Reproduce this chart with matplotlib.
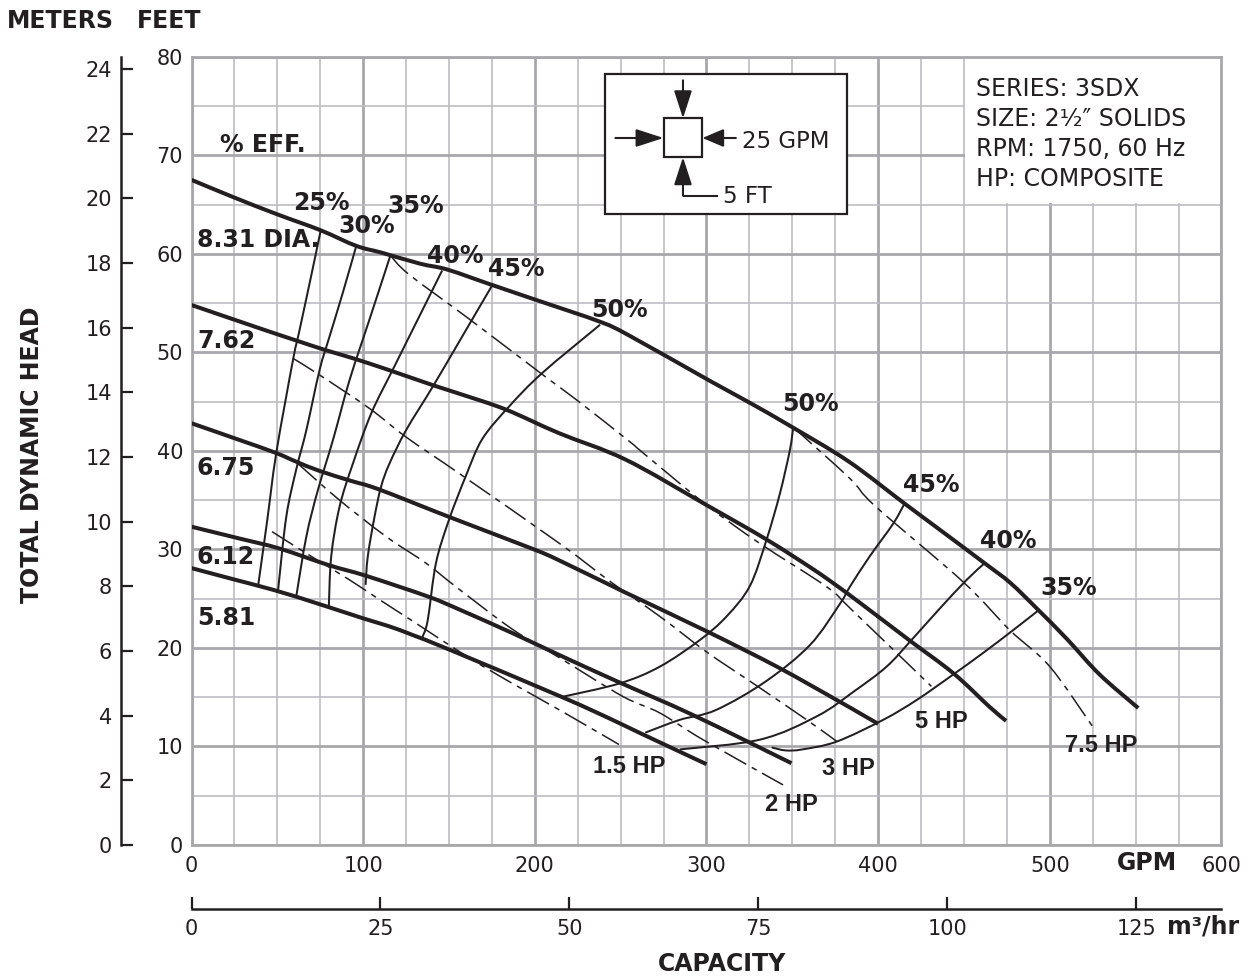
import matplotlib
matplotlib.use("Agg")
import matplotlib.pyplot as plt
from matplotlib.patches import Rectangle, PathPatch
from matplotlib.path import Path
import numpy as np

plt.rcParams['font.family'] = ['DejaVu Sans']
plt.rcParams['lines.scale_dashes'] = False

# ---------------- data (GPM, feet) ----------------
d831_q = [0, 25, 50, 75, 96, 111, 133, 149, 174, 201, 238, 255, 302, 325, 350, 383, 415, 432, 462, 477, 493, 510, 529, 551.5]
d831_h = [67.5, 65.7, 64.0, 62.4, 60.8, 60.1, 59.0, 58.4, 56.9, 55.3, 53.1, 51.7, 47.1, 44.9, 42.4, 38.9, 34.7, 32.5, 28.6, 26.6, 23.9, 20.9, 17.3, 13.9]
d762_q = [0, 42, 61, 78.5, 94, 115, 140, 156, 183, 214, 253, 300, 335, 362, 376, 390, 418, 444, 465, 474.5]
d762_h = [54.8, 52.3, 51.2, 50.2, 49.4, 48.2, 46.7, 45.8, 44.2, 41.8, 39.1, 34.5, 31.0, 28.0, 26.3, 24.5, 20.8, 17.4, 14.0, 12.6]
d675_q = [0, 28, 49, 61, 74, 92, 109, 150, 198, 214, 253, 300, 341, 376, 390, 400]
d675_h = [42.8, 41.1, 39.8, 38.9, 38.0, 37.0, 36.1, 33.3, 30.1, 28.9, 25.6, 21.7, 18.1, 14.7, 13.3, 12.3]
d612_q = [0, 28, 51, 80, 102, 138, 156, 187, 214, 248, 292, 349.5]
d612_h = [32.3, 31.1, 30.1, 28.4, 27.3, 25.2, 23.9, 21.5, 19.3, 16.6, 13.2, 8.3]
d581_q = [0, 28, 39, 61, 100, 115, 129, 152, 216, 244, 262, 300]
d581_h = [28.1, 26.8, 26.3, 25.2, 23.0, 22.2, 21.3, 19.7, 15.0, 12.8, 11.3, 8.2]
dia_names = ['8.31 DIA.', '7.62', '6.75', '6.12', '5.81']

# efficiency curves
e25_q = [75.3, 70.5, 63.0, 59.1, 49.4, 44.0, 38.8]
e25_h = [62.4, 58.4, 52.3, 49.2, 39.8, 32.8, 26.3]
e30_q = [96, 87.9, 80.4, 74.6, 66.9, 61.0, 55.2, 50.4]
e30_h = [60.8, 55.9, 51.6, 48.2, 42.1, 38.1, 33.3, 25.8]
e35_q = [116, 104, 92.1, 82.4, 73.6, 66.9, 61.0]
e35_h = [59.9, 53.5, 47.2, 41.1, 36.0, 31.3, 25.2]
e40_q = [146, 132, 118, 104.7, 94.0, 86.2, 81.4, 80.0]
e40_h = [58.3, 53.4, 48.5, 43.8, 38.7, 34.3, 29.3, 24.2]
e45_q = [175.5, 157, 140.5, 125, 115.3, 110.5, 106.6, 102.7, 101.4]
e45_h = [56.9, 51.4, 46.5, 42.1, 38.7, 36.4, 33.3, 29.3, 26.4]
e50_q = [238, 204.3, 185, 169.4, 159.7, 150, 142.4, 137.6, 134.5]
e50_h = [52.8, 47.9, 44.5, 41.2, 37.4, 33.0, 28.6, 22.8, 21.1]
e50r_q = [350.5, 348.6, 342.8, 335, 325.3, 311.7, 296.1, 272.8, 249.4, 215]
e50r_h = [42.4, 40.1, 35.7, 31.0, 26.3, 23.2, 20.8, 18.1, 16.4, 15.0]
e45r_q = [415.5, 408.7, 395.1, 383.5, 377.8, 360.3, 334.5, 305.5, 284.4, 264.3]
e45r_h = [34.7, 32.6, 29.3, 26.2, 24.5, 20.3, 16.6, 13.7, 12.7, 11.4]
e40r_q = [462, 451.5, 435.9, 419.4, 404.9, 386, 364.7, 331.3, 284.4]
e40r_h = [28.6, 26.9, 24.0, 20.8, 18.1, 15.6, 13.1, 10.7, 9.7]
e35r_q = [494, 478.6, 461.2, 443.7, 422.3, 402.9, 375.9, 355.8, 346, 338]
e35r_h = [23.9, 21.8, 19.5, 17.3, 14.7, 12.7, 10.5, 9.7, 9.6, 9.9]

# horsepower lines
hp75_q = [350.5, 383.5, 398.2, 449.5, 476.7, 500, 525]
hp75_h = [42.4, 37.2, 34.4, 26.7, 21.8, 18.1, 12.0]
hp5_q = [116, 126.7, 161.6, 206.3, 224.1, 254.8, 263, 300, 331.1, 370, 385, 431]
hp5_h = [59.8, 57.9, 53.4, 47.5, 45.2, 41.0, 39.8, 34.5, 30.6, 26.2, 23.8, 16.1]
hp3_q = [59, 74.6, 103.7, 125, 156, 214.4, 245, 272.8, 300, 327.2, 358.4, 376]
hp3_h = [49.4, 47.7, 44.3, 41.4, 37.7, 30.6, 26.6, 23.2, 19.6, 16.4, 12.7, 10.5]
hp2_q = [62, 86.2, 113.4, 136.6, 154.1, 186.9, 214.4, 251, 272.8, 297.8, 344.6]
hp2_h = [38.7, 35.0, 31.3, 28.6, 26.2, 21.9, 19.0, 15.1, 13.4, 10.7, 6.1]
hp15_q = [46.9, 66.9, 92.1, 109.5, 130.8, 161.7, 186.9, 214.4, 249]
hp15_h = [31.8, 29.6, 26.9, 24.9, 22.5, 19.0, 16.4, 13.7, 10.2]

gpm_ticks = [0, 100, 200, 300, 400, 500, 600]
ft_ticks = [0, 10, 20, 30, 40, 50, 60, 70, 80]
m_ticks = [0, 2, 4, 6, 8, 10, 12, 14, 16, 18, 20, 22, 24]
m3_ticks = [0, 25, 50, 75, 100, 125]
info_lines = ['SERIES: 3SDX', 'SIZE: 2\u00b9\u2044\u2082\u2033 SOLIDS', 'RPM: 1750, 60 Hz', 'HP: COMPOSITE']


def smooth_path(q, h):
    """Smooth (Catmull-Rom style) path passing through every read point."""
    P = np.column_stack([q, h]).astype(float)
    ext = np.vstack([P[0], P, P[-1]])
    verts, codes = [P[0]], [Path.MOVETO]
    for i in range(len(P) - 1):
        p0, p1, p2, p3 = ext[i], ext[i + 1], ext[i + 2], ext[i + 3]
        verts += [p1 + (p2 - p0) / 6.0, p2 - (p3 - p1) / 6.0, p2]
        codes += [Path.CURVE4] * 3
    return Path(verts, codes)


# ---------------- figure ----------------
W, H = 1249, 977
fig = plt.figure(figsize=(W / 100, H / 100), dpi=100)
fig.patch.set_facecolor('white')
INK = '#231f20'
GRID_MAJ = '#a8a8ac'
GRID_MIN = '#bebec2'

x0, x1 = 191.5, 1221.5
y0, y1 = 845.0, 56.7
ax = fig.add_axes([x0 / W, 1 - y0 / H, (x1 - x0) / W, (y0 - y1) / H])
ax.set_xlim(0, 600)
ax.set_ylim(0, 80)
ax.set_xticks(gpm_ticks)
ax.set_yticks(ft_ticks)
ax.set_xticks([v for v in range(0, 601, 25) if v % 100], minor=True)
ax.set_yticks([v for v in range(0, 81, 5) if v % 10], minor=True)
ax.set_axisbelow(True)
ax.grid(which='major', color=GRID_MAJ, lw=2.0)
ax.grid(which='minor', color=GRID_MIN, lw=1.2)
ax.tick_params(which='both', length=0)
ax.tick_params(axis='x', pad=8, labelsize=15, labelcolor=INK)
ax.tick_params(axis='y', pad=6, labelsize=15, labelcolor=INK)
for s in ax.spines.values():
    s.set_color(GRID_MAJ)
    s.set_linewidth(2.0)

# white panel behind info text
ax.add_patch(Rectangle((450.7, 65.12), 150, 15, facecolor='white', edgecolor='none', zorder=0.8))


def draw(q, h, lw, ls='-'):
    ax.add_patch(PathPatch(smooth_path(q, h), facecolor='none', edgecolor=INK, lw=lw, ls=ls,
                           capstyle='butt', joinstyle='round', zorder=3))


# diameter curves
for q, h in [(d831_q, d831_h), (d762_q, d762_h), (d675_q, d675_h), (d612_q, d612_h), (d581_q, d581_h)]:
    draw(q, h, 2.9)

# efficiency curves
for q, h in [(e25_q, e25_h), (e30_q, e30_h), (e35_q, e35_h), (e40_q, e40_h), (e45_q, e45_h),
             (e50_q, e50_h), (e50r_q, e50r_h), (e45r_q, e45r_h), (e40r_q, e40r_h), (e35r_q, e35r_h)]:
    draw(q, h, 1.45)

# horsepower lines
dash = (0, (18, 4.5, 4, 4.5))
for q, h in [(hp75_q, hp75_h), (hp5_q, hp5_h), (hp3_q, hp3_h), (hp2_q, hp2_h), (hp15_q, hp15_h)]:
    draw(q, h, 1.1, dash)

# labels
bold = dict(color=INK, fontsize=17, fontweight='bold', zorder=5)
ax.text(16.6, 70.35, '% EFF.', ha='left', va='baseline', **bold)
for name, yb in zip(dia_names, [60.7, 50.4, 37.5, 28.5, 22.3]):
    ax.text(3.2, yb, name, ha='left', va='baseline', **bold)
pct_labels = [('25%', 75.5, 64.4), ('30%', 102.2, 62.1), ('35%', 130.8, 64.1), ('40%', 153.5, 59.1),
              ('45%', 189, 57.7), ('50%', 249.6, 53.6), ('50%', 360.8, 44.0), ('45%', 430.7, 35.8),
              ('40%', 475.8, 30.1), ('35%', 510.8, 25.4)]
for t, xq, yb in pct_labels:
    ax.text(xq, yb, t, ha='center', va='baseline', **bold)
hp_labels = [('1.5 HP', 255, 7.3), ('2 HP', 349.2, 3.4), ('3 HP', 382.8, 7.1), ('5 HP', 436.8, 11.9), ('7.5 HP', 529.8, 9.4)]
for t, xq, yb in hp_labels:
    ax.text(xq, yb, t, ha='center', va='baseline', color=INK, fontsize=17, fontweight='bold',
            family=['Liberation Sans', 'DejaVu Sans'], zorder=5)

# info block
for i, line in enumerate(info_lines):
    ax.text(457, 76.0 - 3.05 * i, line, ha='left', va='baseline', fontsize=17, color=INK, zorder=5)

# inset scale box
ax.add_patch(Rectangle((240.6, 64.0), 141.2, 14.2, facecolor='white', edgecolor=INK, lw=1.6, zorder=4))
ax.add_patch(Rectangle((275, 69.8), 22.6, 3.95, facecolor='white', edgecolor=INK, lw=1.6, zorder=4.5))
ap = dict(arrowstyle='-|>,head_length=1.7,head_width=0.55', color=INK, lw=1.5, shrinkA=0, shrinkB=0)
ax.annotate('', xy=(275, 71.75), xytext=(246.9, 71.75), arrowprops=ap, zorder=5)
ax.annotate('', xy=(297.6, 71.75), xytext=(317.1, 71.75),
            arrowprops=dict(ap, arrowstyle='-|>,head_length=1.3,head_width=0.55'), zorder=5)
ax.annotate('', xy=(286.3, 73.75), xytext=(286.3, 77.6), arrowprops=ap, zorder=5)
ax.annotate('', xy=(286.3, 69.8), xytext=(286.3, 65.9), arrowprops=ap, zorder=5)
ax.plot([286.3, 306.8], [65.9, 65.9], color=INK, lw=1.5, zorder=5, solid_capstyle='butt')
ax.text(320.7, 70.7, '25 GPM', ha='left', va='baseline', fontsize=16.5, color=INK, zorder=5)
ax.text(309.7, 65.15, '5 FT', ha='left', va='baseline', fontsize=16.5, color=INK, zorder=5)

# meters axis
axm = fig.add_axes([121 / W, 1 - y0 / H, 0.0001, (y0 - y1) / H])
axm.set_ylim(0, 80 * 0.3048)
axm.set_yticks(m_ticks)
axm.set_xticks([])
axm.patch.set_visible(False)
for k in ['right', 'top', 'bottom']:
    axm.spines[k].set_visible(False)
axm.spines['left'].set_linewidth(1.8)
axm.spines['left'].set_color(INK)
axm.tick_params(axis='y', direction='in', length=8.6, width=1.6, pad=6.5, labelsize=15,
                color=INK, labelcolor=INK)

# m3/hr axis
axc = fig.add_axes([x0 / W, 1 - 909.3 / H, (x1 - x0) / W, 0.0001])
axc.set_xlim(0, 600 / 4.402868)
axc.set_xticks(m3_ticks)
axc.set_yticks([])
axc.patch.set_visible(False)
for k in ['left', 'right', 'top']:
    axc.spines[k].set_visible(False)
axc.spines['bottom'].set_linewidth(1.8)
axc.spines['bottom'].set_color(INK)
axc.tick_params(axis='x', direction='in', length=8.6, width=1.6, pad=7, labelsize=15,
                color=INK, labelcolor=INK)

# figure-level titles
fb = dict(color=INK, fontsize=17, fontweight='bold')
fig.text(7 / W, 1 - 21 / H, 'METERS', ha='left', va='center', **fb)
fig.text(137 / W, 1 - 21 / H, 'FEET', ha='left', va='center', **fb)
fig.text(32 / W, 1 - 455 / H, 'TOTAL DYNAMIC HEAD', rotation=90, ha='center', va='center', **fb)
fig.text(722 / W, 1 - 964 / H, 'CAPACITY', ha='center', va='center', **fb)
fig.text(1147 / W, 1 - 863 / H, 'GPM', ha='center', va='center', **fb)
fig.text(1167 / W, 1 - 927 / H, 'm\u00b3/hr', ha='left', va='center', **fb)

fig.savefig('out.png', dpi=100, facecolor='white')
